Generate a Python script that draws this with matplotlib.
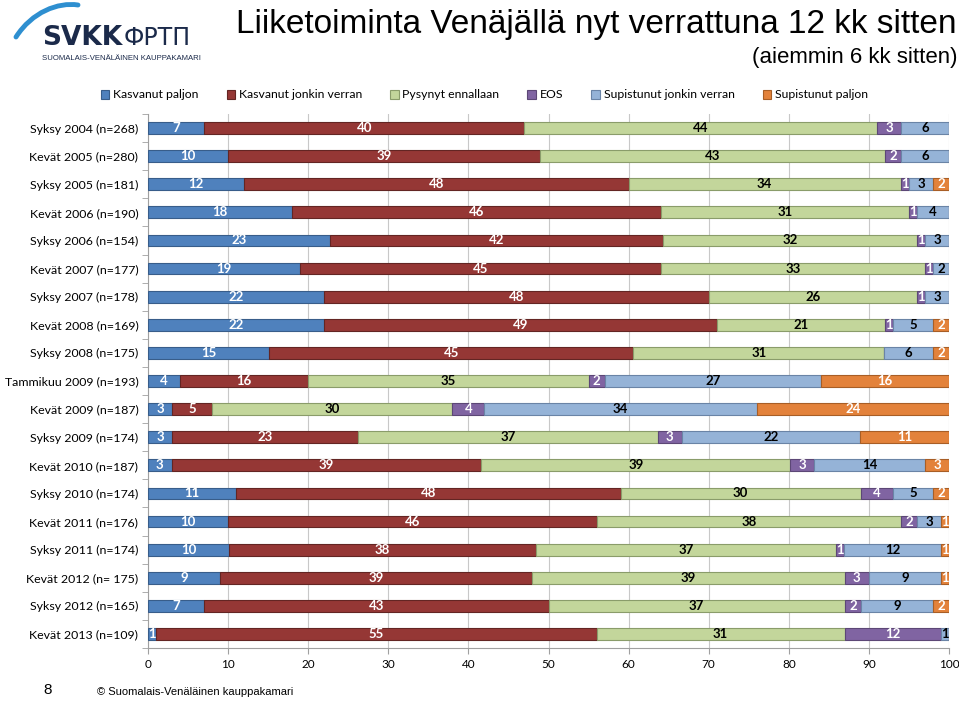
import numpy as np
import matplotlib
matplotlib.use("Agg")
from matplotlib import pyplot as plt
from matplotlib.patches import PathPatch, Patch
from matplotlib.path import Path

# Survey rounds, top to bottom
rounds = [
    "Syksy 2004 (n=268)", "Kevät 2005 (n=280)", "Syksy 2005 (n=181)",
    "Kevät 2006 (n=190)", "Syksy 2006 (n=154)", "Kevät 2007 (n=177)",
    "Syksy 2007 (n=178)", "Kevät 2008 (n=169)", "Syksy 2008 (n=175)",
    "Tammikuu 2009 (n=193)", "Kevät 2009 (n=187)", "Syksy 2009 (n=174)",
    "Kevät 2010 (n=187)", "Syksy 2010 (n=174)", "Kevät 2011 (n=176)",
    "Syksy 2011 (n=174)", "Kevät 2012 (n= 175)", "Syksy 2012 (n=165)",
    "Kevät 2013 (n=109)",
]

series_names = ["Kasvanut paljon", "Kasvanut jonkin verran", "Pysynyt ennallaan",
                "EOS", "Supistunut jonkin verran", "Supistunut paljon"]

kasvanut_paljon = [7, 10, 12, 18, 23, 19, 22, 22, 15, 4, 3, 3, 3, 11, 10, 10, 9, 7, 1]
kasvanut_jonkin = [40, 39, 48, 46, 42, 45, 48, 49, 45, 16, 5, 23, 39, 48, 46, 38, 39, 43, 55]
pysynyt = [44, 43, 34, 31, 32, 33, 26, 21, 31, 35, 30, 37, 39, 30, 38, 37, 39, 37, 31]
eos = [3, 2, 1, 1, 1, 1, 1, 1, 0, 2, 4, 3, 3, 4, 2, 1, 3, 2, 12]
supistunut_jonkin = [6, 6, 3, 4, 3, 2, 3, 5, 6, 27, 34, 22, 14, 5, 3, 12, 9, 9, 1]
supistunut_paljon = [0, 0, 2, 0, 0, 0, 0, 2, 2, 16, 24, 11, 3, 2, 1, 1, 1, 2, 0]

x_ticks = [0, 10, 20, 30, 40, 50, 60, 70, 80, 90, 100]

colors = ["#4F81BD", "#953735", "#C3D69B", "#8064A2", "#95B3D7", "#E3823B"]
edges = ["#385D8A", "#632523", "#8A9C6A", "#5C4776", "#6A84A6", "#A85E26"]
text_colors = ["white", "white", "black", "white", "black", "white"]

data = np.array([kasvanut_paljon, kasvanut_jonkin, pysynyt, eos,
                 supistunut_jonkin, supistunut_paljon], dtype=float)
# bars fill the whole 0-100 scale, as in the original spreadsheet
shares = data / data.sum(axis=0) * 100

fig = plt.figure(figsize=(9.59, 7.01), dpi=100)
ax = fig.add_axes([148 / 959, 1 - 648 / 701, 801 / 959, 534 / 701])

ypos = np.arange(len(rounds))
left = np.zeros(len(rounds))
for i, name in enumerate(series_names):
    ax.barh(ypos, shares[i], left=left, height=0.42, color=colors[i],
            edgecolor=edges[i], linewidth=0.8, label=name, zorder=3)
    for j in range(len(rounds)):
        if data[i, j] > 0:
            ax.text(left[j] + shares[i, j] / 2, ypos[j], f"{int(data[i, j])}",
                    ha="center", va="center", fontsize=9.5, fontweight="bold",
                    color=text_colors[i], family="Lato", zorder=4)
    left += shares[i]

ax.set_xlim(0, 100)
ax.set_ylim(len(rounds) - 0.5, -0.5)
ax.set_xticks(x_ticks)
ax.set_xticklabels([str(t) for t in x_ticks], fontsize=8.5, family="Lato")
ax.set_yticks(ypos)
ax.set_yticklabels(rounds, fontsize=8.9, family="Lato")
ax.set_yticks(np.arange(len(rounds) + 1) - 0.5, minor=True)
ax.tick_params(axis="y", which="major", length=0, pad=7)
ax.tick_params(axis="y", which="minor", length=4, color="#A0A0A0", direction="out")
ax.tick_params(axis="x", length=4, color="#A0A0A0", pad=4)
ax.grid(axis="x", color="#C8C8C8", linewidth=0.8, zorder=0)
ax.set_axisbelow(True)
for side in ["top", "right"]:
    ax.spines[side].set_visible(False)
for side in ["left", "bottom"]:
    ax.spines[side].set_color("#A0A0A0")

handles = [Patch(facecolor=c, edgecolor=e, linewidth=0.8) for c, e in zip(colors, edges)]
fig.legend(handles, series_names, loc="center", bbox_to_anchor=(0.505, 1 - 95 / 701),
           ncol=6, frameon=False, handlelength=0.7, handleheight=0.7,
           handletextpad=0.3, columnspacing=2.3, prop={"family": "Lato", "size": 8.8})

# Title
fig.text(957 / 959, 1 - 24 / 701, "Liiketoiminta Venäjällä nyt verrattuna 12 kk sitten",
         ha="right", va="center", fontsize=24, family="Liberation Sans")
fig.text(957 / 959, 1 - 58 / 701, "(aiemmin 6 kk sitten)",
         ha="right", va="center", fontsize=16, family="Liberation Sans")

# Logo
arc = Path([(16 / 959, 1 - 37 / 701), (32 / 959, 1 - 12 / 701), (58 / 959, 1 - 2 / 701),
            (78 / 959, 1 - 5 / 701)], [Path.MOVETO, Path.CURVE4, Path.CURVE4, Path.CURVE4])
fig.patches.append(PathPatch(arc, transform=fig.transFigure, facecolor="none",
                             edgecolor="#2E8FD0", linewidth=3.5, capstyle="round"))
fig.text(42 / 959, 1 - 38 / 701, "SVKK", ha="left", va="center", fontsize=19,
         fontweight="bold", color="#1B2A4A", family="DejaVu Sans")
fig.text(124 / 959, 1 - 38 / 701, "ФРТП", ha="left", va="center", fontsize=17,
         color="#1B2A4A", family="DejaVu Sans")
fig.text(42 / 959, 1 - 59 / 701, "SUOMALAIS-VENÄLÄINEN KAUPPAKAMARI", ha="left",
         va="center", fontsize=5.6, color="#1B2A4A", family="Liberation Sans")

# Footer
fig.text(48 / 959, 1 - 690 / 701, "8", ha="center", va="center", fontsize=11,
         family="Liberation Sans")
fig.text(97 / 959, 1 - 692 / 701, "© Suomalais-Venäläinen kauppakamari", ha="left",
         va="center", fontsize=8, family="Liberation Sans")

fig.savefig("out.png", dpi=100)
